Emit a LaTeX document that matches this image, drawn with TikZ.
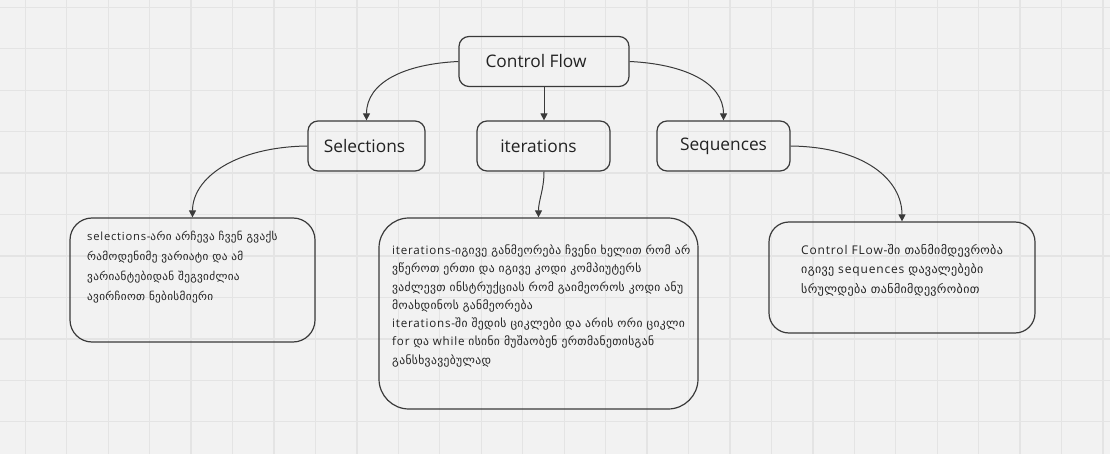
\documentclass[tikz,border=0pt]{standalone}
\usepackage{fontspec}
\setmainfont{Open Sans}
\newfontfamily\latfont[LetterSpace=7]{Open Sans}
\newfontfamily\geofont[LetterSpace=3]{DejaVu Sans}
\newcommand{\ka}[1]{{\geofont #1}}
\usetikzlibrary{arrows.meta}
\definecolor{bg}{HTML}{F2F2F2}
\definecolor{gridc}{HTML}{E4E4E4}
\definecolor{ink}{HTML}{3A3A3A}
\definecolor{textc}{HTML}{222222}
\tikzset{
  hbox/.style={draw=ink, line width=1.2pt, rounded corners=10pt, minimum height=50pt,
    font=\fontsize{17.3}{20}\selectfont, text=textc, inner sep=0pt},
  tbox/.style={draw=ink, line width=1.2pt, inner sep=0pt},
  ttext/.style={anchor=base west, inner sep=0pt, text=textc},
  conn/.style={draw=ink, line width=1pt, -{Triangle[length=7pt,width=7pt]}}
}
\begin{document}
\begin{tikzpicture}[x=1pt,y=-1pt]
\fill[bg] (0,0) rectangle (1110,454);
\useasboundingbox (0,0) rectangle (1110,454);
\foreach \i in {0,...,26} \draw[gridc, line width=1.3pt] ({25.3+41.45*\i},0) -- ++(0,454);
\foreach \j in {0,...,10} \draw[gridc, line width=1.3pt] (0,{7.3+41.45*\j}) -- ++(1110,0);

\node[hbox, minimum width=170pt] (cf) at (544,61.5) {\raisebox{1.5pt}{Control Flow}\hspace*{16pt}};
\node[hbox, minimum width=117pt] (sel) at (366.5,146) {\hspace*{-4pt}Selections};
\node[hbox, minimum width=133pt] (it) at (543.5,146) {iterations\hspace*{10pt}};
\node[hbox, minimum width=133pt] (seq) at (723.5,146) {Sequences};

\node[tbox, rounded corners=22pt, minimum width=245pt, minimum height=124pt] (b1) at (192.5,280) {};
\node[ttext] (t1) at (87,240.5)
 {\parbox[t]{230pt}{\fontsize{11.2}{20}\selectfont\latfont
 selections-\ka{არი არჩევა ჩვენ გვაქს}\\
 \ka{რამოდენიმე ვარიატი და ამ}\\
 \ka{ვარიანტებიდან შეგვიძლია}\\
 \ka{ავირჩიოთ ნებისმიერი}}};

\node[tbox, rounded corners=30pt, minimum width=319pt, minimum height=191pt] (b2) at (538.5,313.5) {};
\node[ttext] (t2) at (392,254.5)
 {\parbox[t]{310pt}{\fontsize{11.6}{18.3}\selectfont\latfont
 iterations-\ka{იგივე განმეორება ჩვენი ხელით რომ არ}\\
 \ka{ვწეროთ ერთი და იგივე კოდი კომპიუტერს}\\
 \ka{ვაძლევთ ინსტრუქციას რომ გაიმეოროს კოდი ანუ}\\
 \ka{მოახდინოს განმეორება}\\
 iterations-\ka{ში შედის ციკლები და არის ორი ციკლი}\\
 for \ka{და} while \ka{ისინი მუშაობენ ერთმანეთისგან}\\
 \ka{განსხვავებულად}}};

\node[tbox, rounded corners=20pt, minimum width=266pt, minimum height=111pt] (b3) at (902,277.5) {};
\node[ttext] (t3) at (801,254.5)
 {\parbox[t]{230pt}{\fontsize{12}{19.5}\selectfont\latfont
 Control FLow-\ka{ში თანმიმდევრობა}\\
 \ka{იგივე} sequences \ka{დავალებები}\\
 \ka{სრულდება თანმიმდევრობით}}};

\draw[conn] (cf.west) .. controls (405,64) and (366.5,82) .. (sel.north);
\draw[conn] (cf.south) -- (it.north -| cf.south);
\draw[conn] (cf.east) .. controls (683,64) and (723.5,82) .. (seq.north);
\draw[conn] (sel.west) .. controls (235,147) and (192.5,178) .. (b1.north);
\draw[conn] (it.south -| cf.south) .. controls (544,190) and (538.5,200) .. (b2.north);
\draw[conn] (seq.east) .. controls (865,147) and (902,180) .. (b3.north);
\end{tikzpicture}
\end{document}
